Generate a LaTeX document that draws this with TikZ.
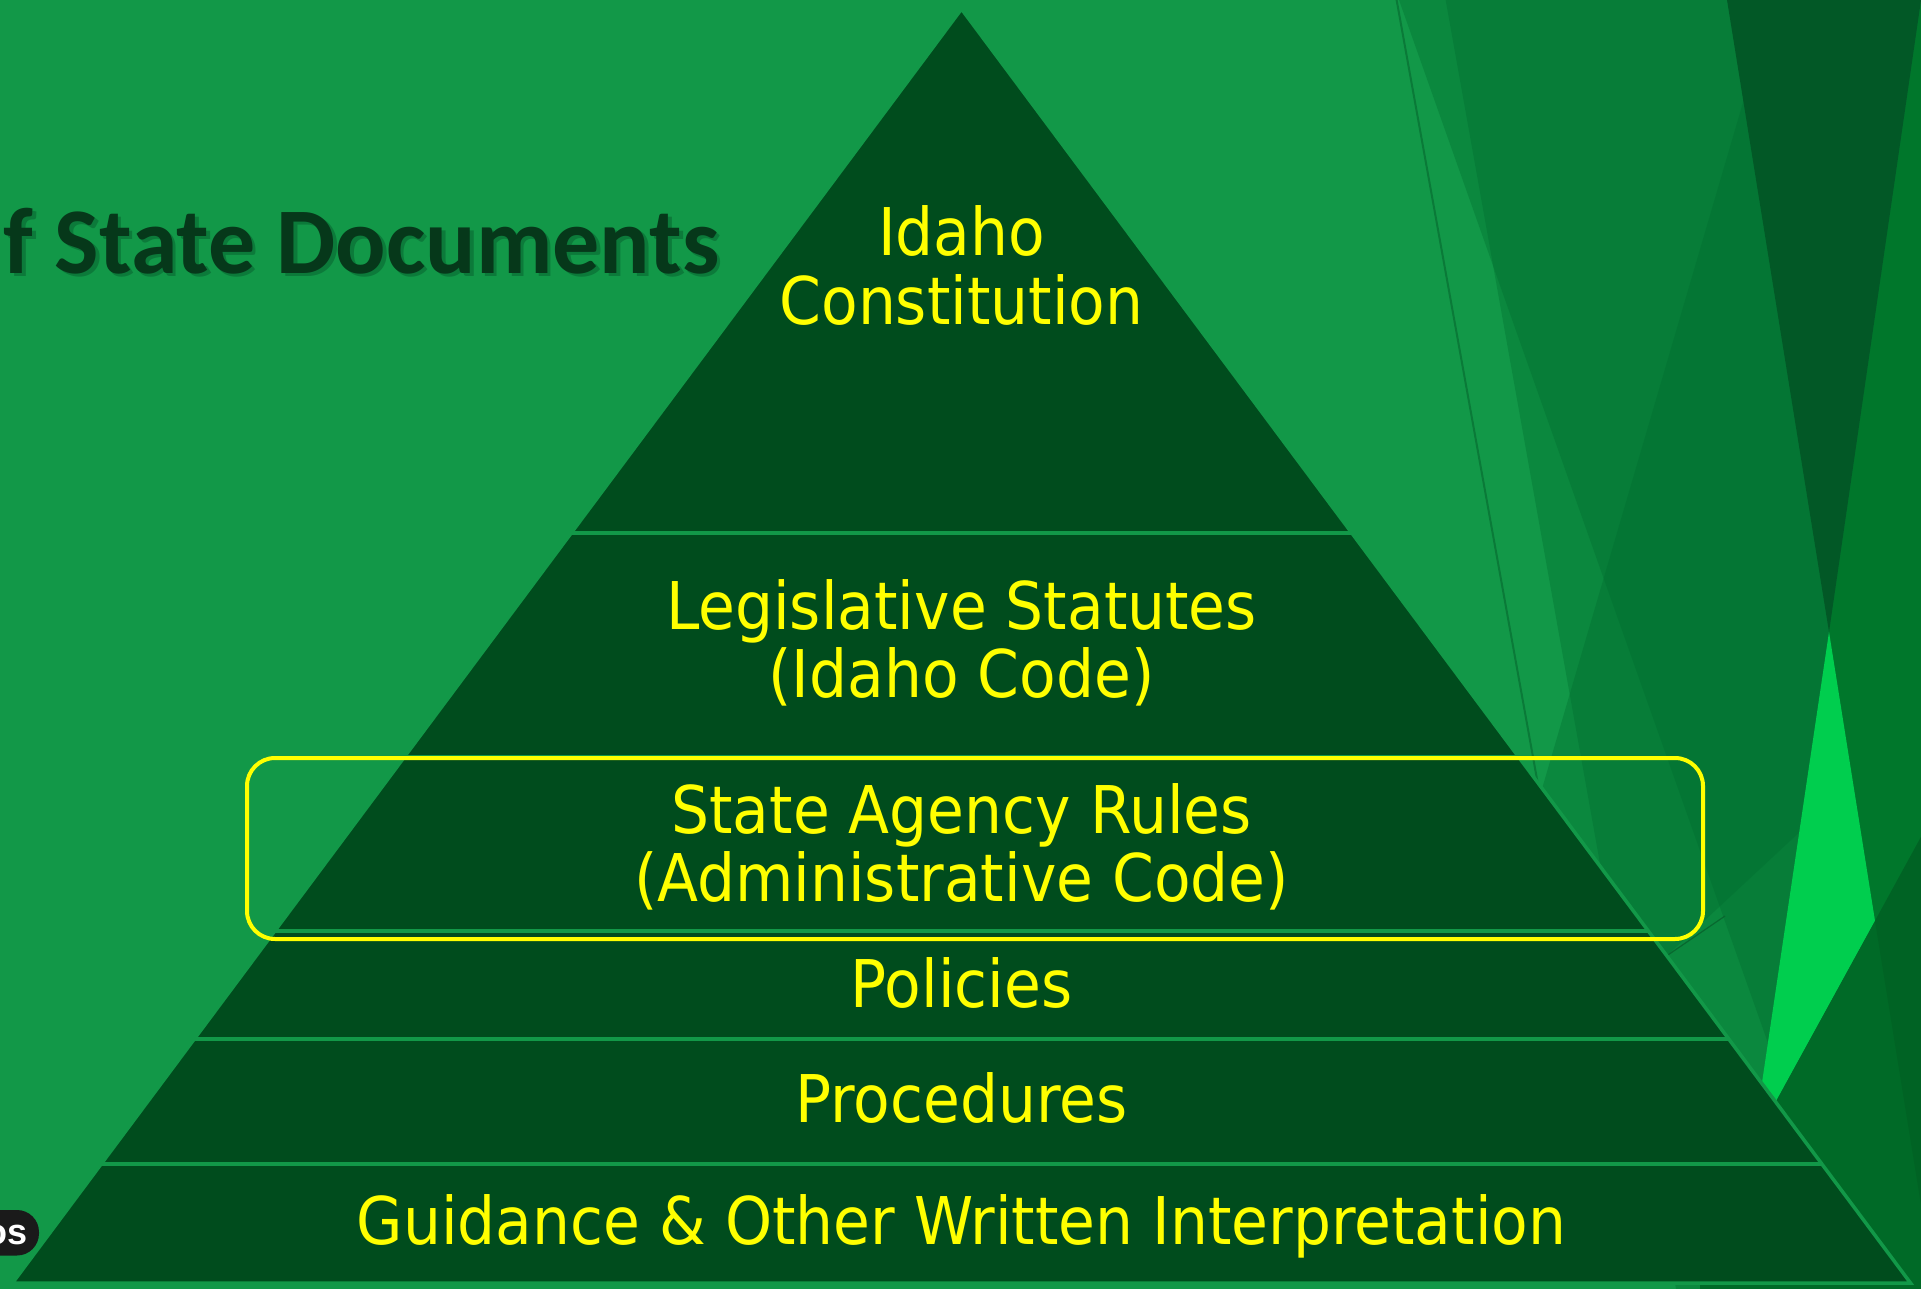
\documentclass[tikz,border=0pt]{standalone}
\usepackage{fontspec}
\newfontfamily\pyrfont[FakeStretch=0.91]{DejaVu Sans}
\newfontfamily\titlefont{Carlito}
\newfontfamily\badgefont{Liberation Sans}
\definecolor{bggreen}{HTML}{129848}
\definecolor{pyrgreen}{HTML}{004C1D}
\definecolor{layergreen}{HTML}{006B2E}
\definecolor{thinline}{HTML}{0A7A38}
\definecolor{stripgreen}{HTML}{00772B}
\definecolor{vgreen}{HTML}{025826}
\definecolor{brightgreen}{HTML}{00CE4E}
\definecolor{lowgreen}{HTML}{006A27}
\definecolor{lowgreenb}{HTML}{006324}
\definecolor{titlegreen}{HTML}{06381A}
\definecolor{titleshadow}{HTML}{0C7A3A}
\definecolor{labelyellow}{HTML}{FFFF00}
\definecolor{badgeblack}{HTML}{1A1A1A}
\definecolor{edgedark}{HTML}{08682F}
\tikzset{
  layer/.style={fill=layergreen, fill opacity=0.35},
  sepline/.style={draw=bggreen, line width=1.75pt},
  lbl/.style={font=\pyrfont\fontsize{32.9}{34}\selectfont, text=labelyellow, inner sep=0pt, anchor=base},
  titletext/.style={font=\titlefont\bfseries\fontsize{47}{50}\selectfont, inner sep=0pt, anchor=base east},
}
\begin{document}
\begin{tikzpicture}[x=0.5pt,y=-0.5pt]
\useasboundingbox (0,0) rectangle (1921,1289);
\clip (0,0) rectangle (1921,1289);
% background
\fill[bggreen] (0,0) rectangle (1921,1289);
% translucent facets
\fill[layer] (1445.6,0) -- (1921,0) -- (1921,1289) -- (1676,1289) -- cycle;
\fill[layer] (1399,0) -- (1921,0) -- (1921,1289) -- (1855,1289) -- cycle;
\fill[layer] (1773,0) -- (1921,0) -- (1921,719) -- (1428,1178) -- cycle;
% thin line
\draw[thinline, line width=1pt] (1396.6,0) -- (1540,796);
% right strip
\fill[stripgreen] (1921,0) -- (1829,632) -- (1875,921) -- (1921,837) -- cycle;
% dark V
\fill[vgreen] (1727,0) -- (1921,0) -- (1829,632) -- cycle;
% bright triangle
\fill[brightgreen] (1829,632) -- (1875,921) -- (1753,1143) -- cycle;
% lower right
\fill[lowgreen] (1921,837) -- (1700,1240) -- (1700,1289) -- (1921,1289) -- cycle;
\fill[lowgreenb] (1921,837) -- (1875,921) -- (1921,1205) -- cycle;
% small dark edge
\draw[edgedark, line width=0.6pt] (1662,959) -- (1725,916);
% pyramid
\fill[pyrgreen] (961.5,9) -- (1910.5,1283) -- (12.5,1283) -- cycle;
\begin{scope}
  \clip (961.5,9) -- (1910.5,1283) -- (12.5,1283) -- cycle;
  \draw[sepline] (0,533) -- (1921,533);
  \draw[sepline] (0,757) -- (1921,757);
  \draw[sepline] (0,931) -- (1921,931);
  \draw[sepline] (0,1039) -- (1921,1039);
  \draw[sepline] (0,1164) -- (1921,1164);
\end{scope}
\draw[sepline, line join=miter] (961.5,9) -- (1910.5,1283) -- (12.5,1283) -- cycle;
% labels
\node[lbl] (idaho) at (961.5,256) {Idaho};
\node[lbl] (constitution) at (961.5,324) {Constitution};
\node[lbl] (legis) at (961.5,629) {Legislative Statutes};
\node[lbl] (icode) at (961.5,697) {(Idaho Code)};
\node[lbl] (rules) at (961.5,833) {State Agency Rules};
\node[lbl] (admin) at (961.5,901) {(Administrative Code)};
\node[lbl] (policies) at (961.5,1007) {Policies};
\node[lbl] (procedures) at (961.5,1122) {Procedures};
\node[lbl] (guidance) at (961.5,1244) {Guidance \& Other Written Interpretation};
% highlight box
\draw[labelyellow, line width=2pt, rounded corners=14pt] (247,758) rectangle (1703,939);
% title with soft shadow
\node[titletext, text=titleshadow] (titleshadow) at (723.5,276.5) {f State Documents};
\node[titletext, text=titlegreen] (title) at (720,273) {f State Documents};
% badge
\fill[badgeblack, rounded corners=11pt] (-60,1210) rectangle (39,1255.5);
\node[font=\badgefont\bfseries\fontsize{18}{20}\selectfont, text=white, inner sep=0pt, anchor=base east] (badge) at (28,1244) {os};
\end{tikzpicture}
\end{document}
